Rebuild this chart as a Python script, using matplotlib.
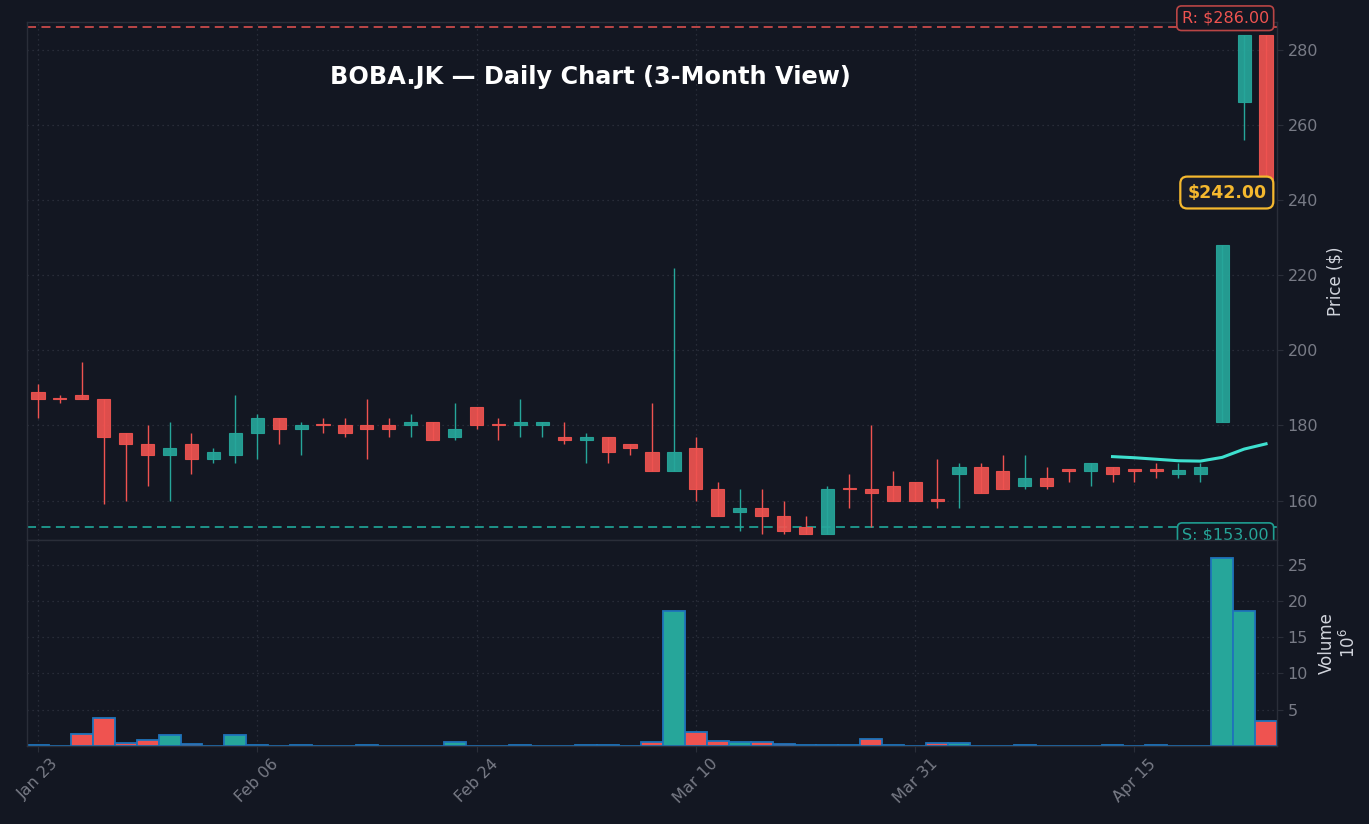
import matplotlib
matplotlib.use("Agg")
import matplotlib.pyplot as plt
from matplotlib.patches import Rectangle

# ---------------- data ----------------
tick_labels = ["Jan 23", "Feb 06", "Feb 24", "Mar 10", "Mar 31", "Apr 15"]
tick_index = [0, 10, 20, 30, 40, 50]

opens = [189, 187.2, 188, 187, 178, 175, 172, 175, 171, 172,
         178, 182, 179, 180.1, 180, 180, 180, 180, 181, 177,
         185, 180.1, 180, 180, 177, 176, 177, 175, 173, 168,
         174, 163, 157, 158, 156, 153, 151, 163.1, 163.1, 164,
         165, 160.1, 167, 169, 168, 164, 166, 168.2, 168, 169,
         168.2, 168.2, 167, 167, 181, 266, 284]
highs = [191, 188, 197, 187, 178, 180, 181, 178, 174, 188,
         183, 182, 181, 182, 182, 187, 182, 183, 181, 186,
         185, 182, 187, 181, 181, 178, 177, 175, 186, 222,
         177, 165, 163, 163, 160, 156, 164, 167, 180, 168,
         165, 171, 170, 170, 172, 172, 169, 168.2, 170, 169,
         168.2, 170, 170, 170, 228, 284, 284]
lows = [182, 186, 187, 159, 160, 164, 160, 167, 170, 170,
        171, 175, 172, 178, 177, 171, 177, 177, 176, 176,
        179, 176, 177, 177, 175, 170, 170, 172, 168, 168,
        160, 156, 152, 151, 151, 151, 151, 158, 153, 160,
        160, 158, 158, 162, 163, 163, 163, 165, 164, 165,
        165, 166, 166, 165, 181, 256, 242]
closes = [187, 187, 187, 177, 175, 172, 174, 171, 173, 178,
          182, 179, 180, 180, 178, 179, 179, 181, 176, 179,
          180, 180, 181, 181, 176, 177, 173, 174, 168, 173,
          163, 156, 158, 156, 152, 151, 163, 163, 162, 160,
          160, 160, 169, 162, 163, 166, 164, 168, 170, 167,
          168, 168, 168.2, 169, 228, 284, 242]
volumes_m = [0.1, 0.02, 1.6, 3.8, 0.37, 0.8, 1.5, 0.23, 0.02, 1.5,
             0.1, 0.02, 0.1, 0.02, 0.02, 0.2, 0.02, 0.02, 0.02, 0.5,
             0.02, 0.02, 0.1, 0.02, 0.02, 0.1, 0.1, 0.02, 0.5, 18.6,
             1.9, 0.65, 0.5, 0.5, 0.25, 0.1, 0.1, 0.1, 0.9, 0.1,
             0.02, 0.4, 0.4, 0.02, 0.02, 0.1, 0.02, 0.02, 0.02, 0.2,
             0.02, 0.1, 0.02, 0.02, 25.9, 18.6, 3.5]
sma_index = [49, 50, 51, 52, 53, 54, 55, 56]
sma_values = [171.7, 171.4, 171.0, 170.6, 170.5, 171.5, 173.7, 175.1]
resistance = 286.0
support = 153.0
last_price = 242.0

# ---------------- style ----------------
BG = "#131722"
UP = "#26a69a"
DN = "#ef5350"
GRID = "#2f3340"
TXT = "#787b86"
SPINE = "#2a2e39"

fig = plt.figure(figsize=(13.69, 8.24), dpi=100, facecolor=BG)
ax = fig.add_axes([27/1369, 284/824, 1250/1369, 518/824], facecolor=BG)
axv = fig.add_axes([27/1369, 78/824, 1250/1369, 206/824], facecolor=BG, sharex=ax)

n = len(opens)
for i in range(n):
    o, h, l, c = opens[i], highs[i], lows[i], closes[i]
    col = UP if c > o else DN
    ax.vlines(i, l, h, color=col, linewidth=1.0, zorder=2)
    bottom = min(o, c)
    height = max(abs(c - o), 0.35)
    ax.add_patch(Rectangle((i - 0.3, bottom), 0.6, height, facecolor=col,
                           edgecolor=col, linewidth=0.8, alpha=0.92, zorder=3))
    axv.bar(i, volumes_m[i], width=1.0, color=col, edgecolor="#1f74bb",
            linewidth=1.3, zorder=2)

ax.plot(sma_index, sma_values, color="#3ee0cf", linewidth=2.2, zorder=4)

ax.axhline(resistance, color="#c94a4a", linestyle=(0, (5, 3)), linewidth=1.3, zorder=1)
ax.axhline(support, color="#1f9e91", linestyle=(0, (5, 3)), linewidth=1.3, zorder=1)

ax.annotate("R: \\$%.2f" % resistance, xy=(0.9935, resistance), xycoords=("axes fraction", "data"),
            xytext=(0, 6.5), textcoords="offset points", ha="right", va="center",
            fontsize=11.5, color=DN, zorder=6,
            bbox=dict(boxstyle="round,pad=0.3", facecolor=BG, edgecolor="#b94545", linewidth=1.2))
ax.annotate("S: \\$%.2f" % support, xy=(0.9935, support), xycoords=("axes fraction", "data"),
            xytext=(0, -6), textcoords="offset points", ha="right", va="center",
            fontsize=11.5, color=UP, zorder=6,
            bbox=dict(boxstyle="round,pad=0.3", facecolor=BG, edgecolor="#1f9e91", linewidth=1.2))
ax.annotate("\\$%.2f" % last_price, xy=(0.9915, last_price), xycoords=("axes fraction", "data"),
            ha="right", va="center", fontsize=12.5, fontweight="bold", color="#f5b82e", zorder=6,
            bbox=dict(boxstyle="round,pad=0.4", facecolor="#1b1e2b", edgecolor="#f5b82e", linewidth=1.6))

ax.text(0.451, 0.894, "BOBA.JK — Daily Chart (3-Month View)", transform=ax.transAxes,
        ha="center", va="center", fontsize=17.3, fontweight="bold", color="white", zorder=6)

ax.set_xlim(-0.5, n - 0.5)
ax.set_ylim(149.5, 287.4)
axv.set_ylim(0, 28.4)

for a in (ax, axv):
    a.yaxis.tick_right()
    a.yaxis.set_label_position("right")
    a.grid(True, color=GRID, linestyle=(0, (1, 3)), linewidth=0.9)
    a.set_axisbelow(True)
    for s in a.spines.values():
        s.set_color(SPINE)
        s.set_linewidth(1.0)
    a.tick_params(colors=TXT, labelsize=11.5, length=4, color=SPINE)

ax.set_yticks([160, 180, 200, 220, 240, 260, 280])
axv.set_yticks([5, 10, 15, 20, 25])
ax.tick_params(axis="x", labelbottom=False, length=0)
axv.set_xticks(tick_index)
axv.set_xticklabels(tick_labels, rotation=45, fontsize=11.5)

ax.set_ylabel("Price (\\$)", color="#d1d4dc", fontsize=12, labelpad=6)
axv.set_ylabel("Volume\n$10^6$", color="#d1d4dc", fontsize=12, labelpad=7)

fig.savefig("out.png", dpi=100, facecolor=BG)
